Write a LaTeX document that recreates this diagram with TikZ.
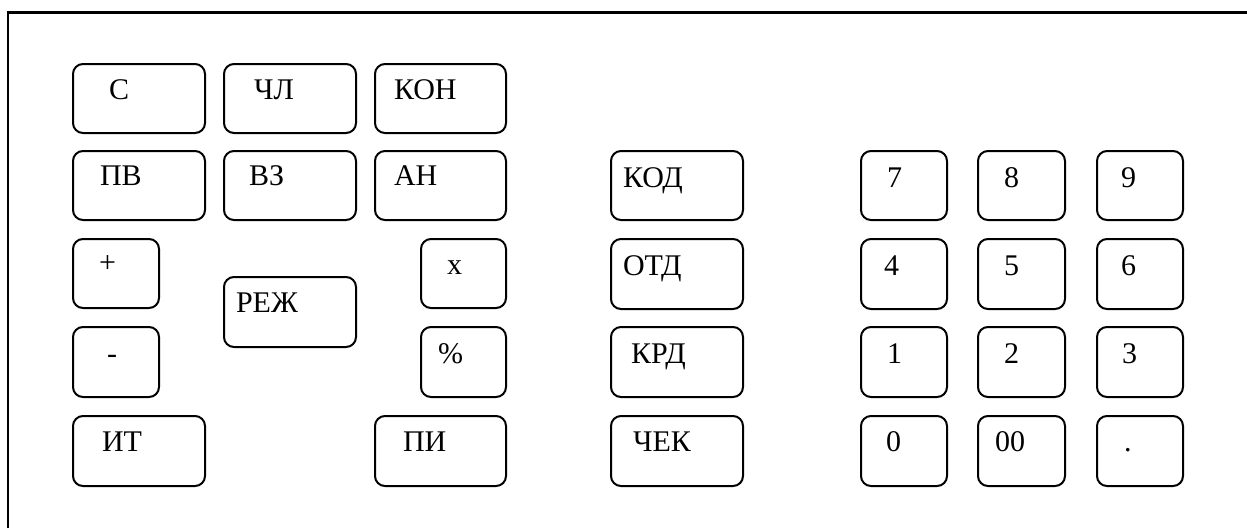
\documentclass[tikz,border=0pt]{standalone}
\usepackage{fontspec}
\setmainfont{Liberation Serif}
\tikzset{
  x=1pt,y=-1pt,
  keybox/.style={draw=black, line width=2pt, rounded corners=10pt, inner sep=0pt, outer sep=0pt},
  keylabel/.style={anchor=base west, inner sep=0pt, outer sep=0pt, font=\fontsize{30}{33}\selectfont},
  frameline/.style={draw=black, line width=2.4pt}
}
% name, x1, y1, x2, y2, label, label-x, label-baseline
\newcommand\kkey[8]{%
  \node[keybox, minimum width={#4pt-#2pt}, minimum height={#5pt-#3pt}] (#1) at ({(#2+#4)/2},{(#3+#5)/2}) {};
  \node[keylabel] (#1-t) at (#7,#8) {#6};
}
\begin{document}
\begin{tikzpicture}
\useasboundingbox (0,0) rectangle (1247,528);
\coordinate (fTL) at (8,12.5);
\coordinate (fTR) at (1247,12.5);
\coordinate (fBL) at (8,528);
\draw[frameline] (fBL) -- (fTL) -- (fTR);
% left block
\kkey{kC}{73}{64}{205}{133}{С}{109}{99}
\kkey{kCHL}{224}{64}{356}{133}{ЧЛ}{254}{99}
\kkey{kKON}{375}{64}{506}{133}{КОН}{394}{99}
\kkey{kPV}{73}{151}{205}{220}{ПВ}{100}{185}
\kkey{kVZ}{224}{151}{356}{220}{ВЗ}{249}{185}
\kkey{kAN}{375}{151}{506}{220}{АН}{394}{185}
\kkey{kPlus}{73}{239}{159}{308}{+}{99}{272}
\kkey{kMinus}{73}{327}{159}{397}{-}{107}{363}
\kkey{kIT}{73}{416}{205}{486}{ИТ}{102}{451}
\kkey{kREZH}{224}{277}{356}{347}{РЕЖ}{236}{312}
\kkey{kX}{421}{239}{506}{308}{x}{447}{274}
\kkey{kPct}{421}{327}{506}{397}{\%}{438}{363}
\kkey{kPI}{375}{416}{506}{486}{ПИ}{403}{451}
% middle column
\kkey{kKOD}{611}{151}{743}{220}{КОД}{623}{187}
\kkey{kOTD}{611}{239}{743}{309}{ОТД}{623}{275}
\kkey{kKRD}{611}{327}{743}{397}{КРД}{631}{363}
\kkey{kCHEK}{611}{416}{743}{486}{ЧЕК}{633}{451}
% numeric pad
\kkey{k7}{861}{151}{947}{220}{7}{887}{187}
\kkey{k8}{978}{151}{1065}{220}{8}{1004}{187}
\kkey{k9}{1097}{151}{1183}{220}{9}{1121}{187}
\kkey{k4}{861}{239}{947}{309}{4}{884}{275}
\kkey{k5}{978}{239}{1065}{309}{5}{1004}{275}
\kkey{k6}{1097}{239}{1183}{309}{6}{1121}{275}
\kkey{k1}{861}{327}{947}{397}{1}{887}{363}
\kkey{k2}{978}{327}{1065}{397}{2}{1004}{363}
\kkey{k3}{1097}{327}{1183}{397}{3}{1122}{363}
\kkey{k0}{861}{416}{947}{486}{0}{886}{451}
\kkey{k00}{978}{416}{1065}{486}{00}{995}{451}
\kkey{kDot}{1097}{416}{1183}{486}{.}{1124}{451}
\end{tikzpicture}
\end{document}
